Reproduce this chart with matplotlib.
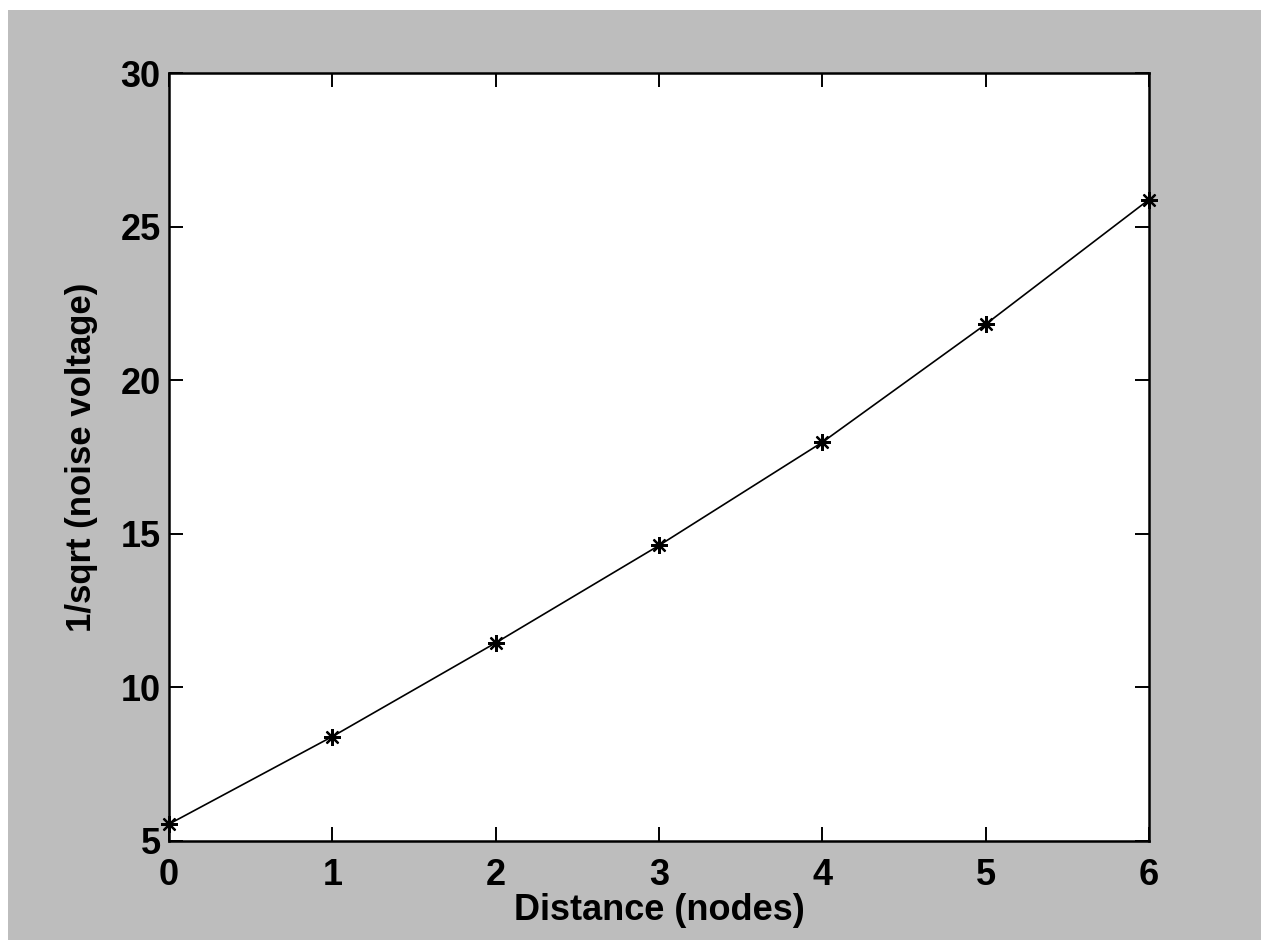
import matplotlib.pyplot as plt
from matplotlib.patches import Rectangle

# Values
distance = [0, 1, 2, 3, 4, 5, 6]
inv_sqrt_noise = [5.55, 8.4, 11.45, 14.62, 17.98, 21.82, 25.88]

x_ticks = [0, 1, 2, 3, 4, 5, 6]
y_ticks = [5, 10, 15, 20, 25, 30]

plt.rcParams['font.family'] = ['Liberation Sans', 'DejaVu Sans']

fig = plt.figure(figsize=(12.61, 9.40), dpi=100, facecolor='white')
# grey scanned-page backdrop, leaving a thin white strip top and left
fig.add_artist(Rectangle((8 / 1261, 0), 1 - 8 / 1261, 1 - 10 / 940,
                         transform=fig.transFigure, facecolor='#bdbdbd',
                         edgecolor='none', zorder=-10))

ax = fig.add_axes([169 / 1261, 1 - 841 / 940, (1149 - 169) / 1261, (841 - 73) / 940])
ax.set_zorder(1)
ax.set_facecolor('white')
ax.plot(distance, inv_sqrt_noise, color='black', linewidth=1.2,
        marker=(8, 2, 0), markersize=12, markeredgewidth=1.6, clip_on=False)

ax.set_xlim(0, 6)
ax.set_ylim(5, 30)
ax.set_xticks(x_ticks)
ax.set_yticks(y_ticks)
ax.tick_params(direction='in', length=10, width=1.4, top=True, right=True,
               labelsize=26, pad=6)
ax.tick_params(axis='x', pad=12)
for lbl in ax.get_xticklabels() + ax.get_yticklabels():
    lbl.set_fontweight('bold')
for sp in ax.spines.values():
    sp.set_linewidth(1.8)

ax.set_xlabel('Distance (nodes)', fontsize=26, fontweight='bold', labelpad=0)
ax.set_ylabel('1/sqrt (noise voltage)', fontsize=25, fontweight='bold', labelpad=16)

plt.savefig('out.png', dpi=100, facecolor=fig.get_facecolor())
